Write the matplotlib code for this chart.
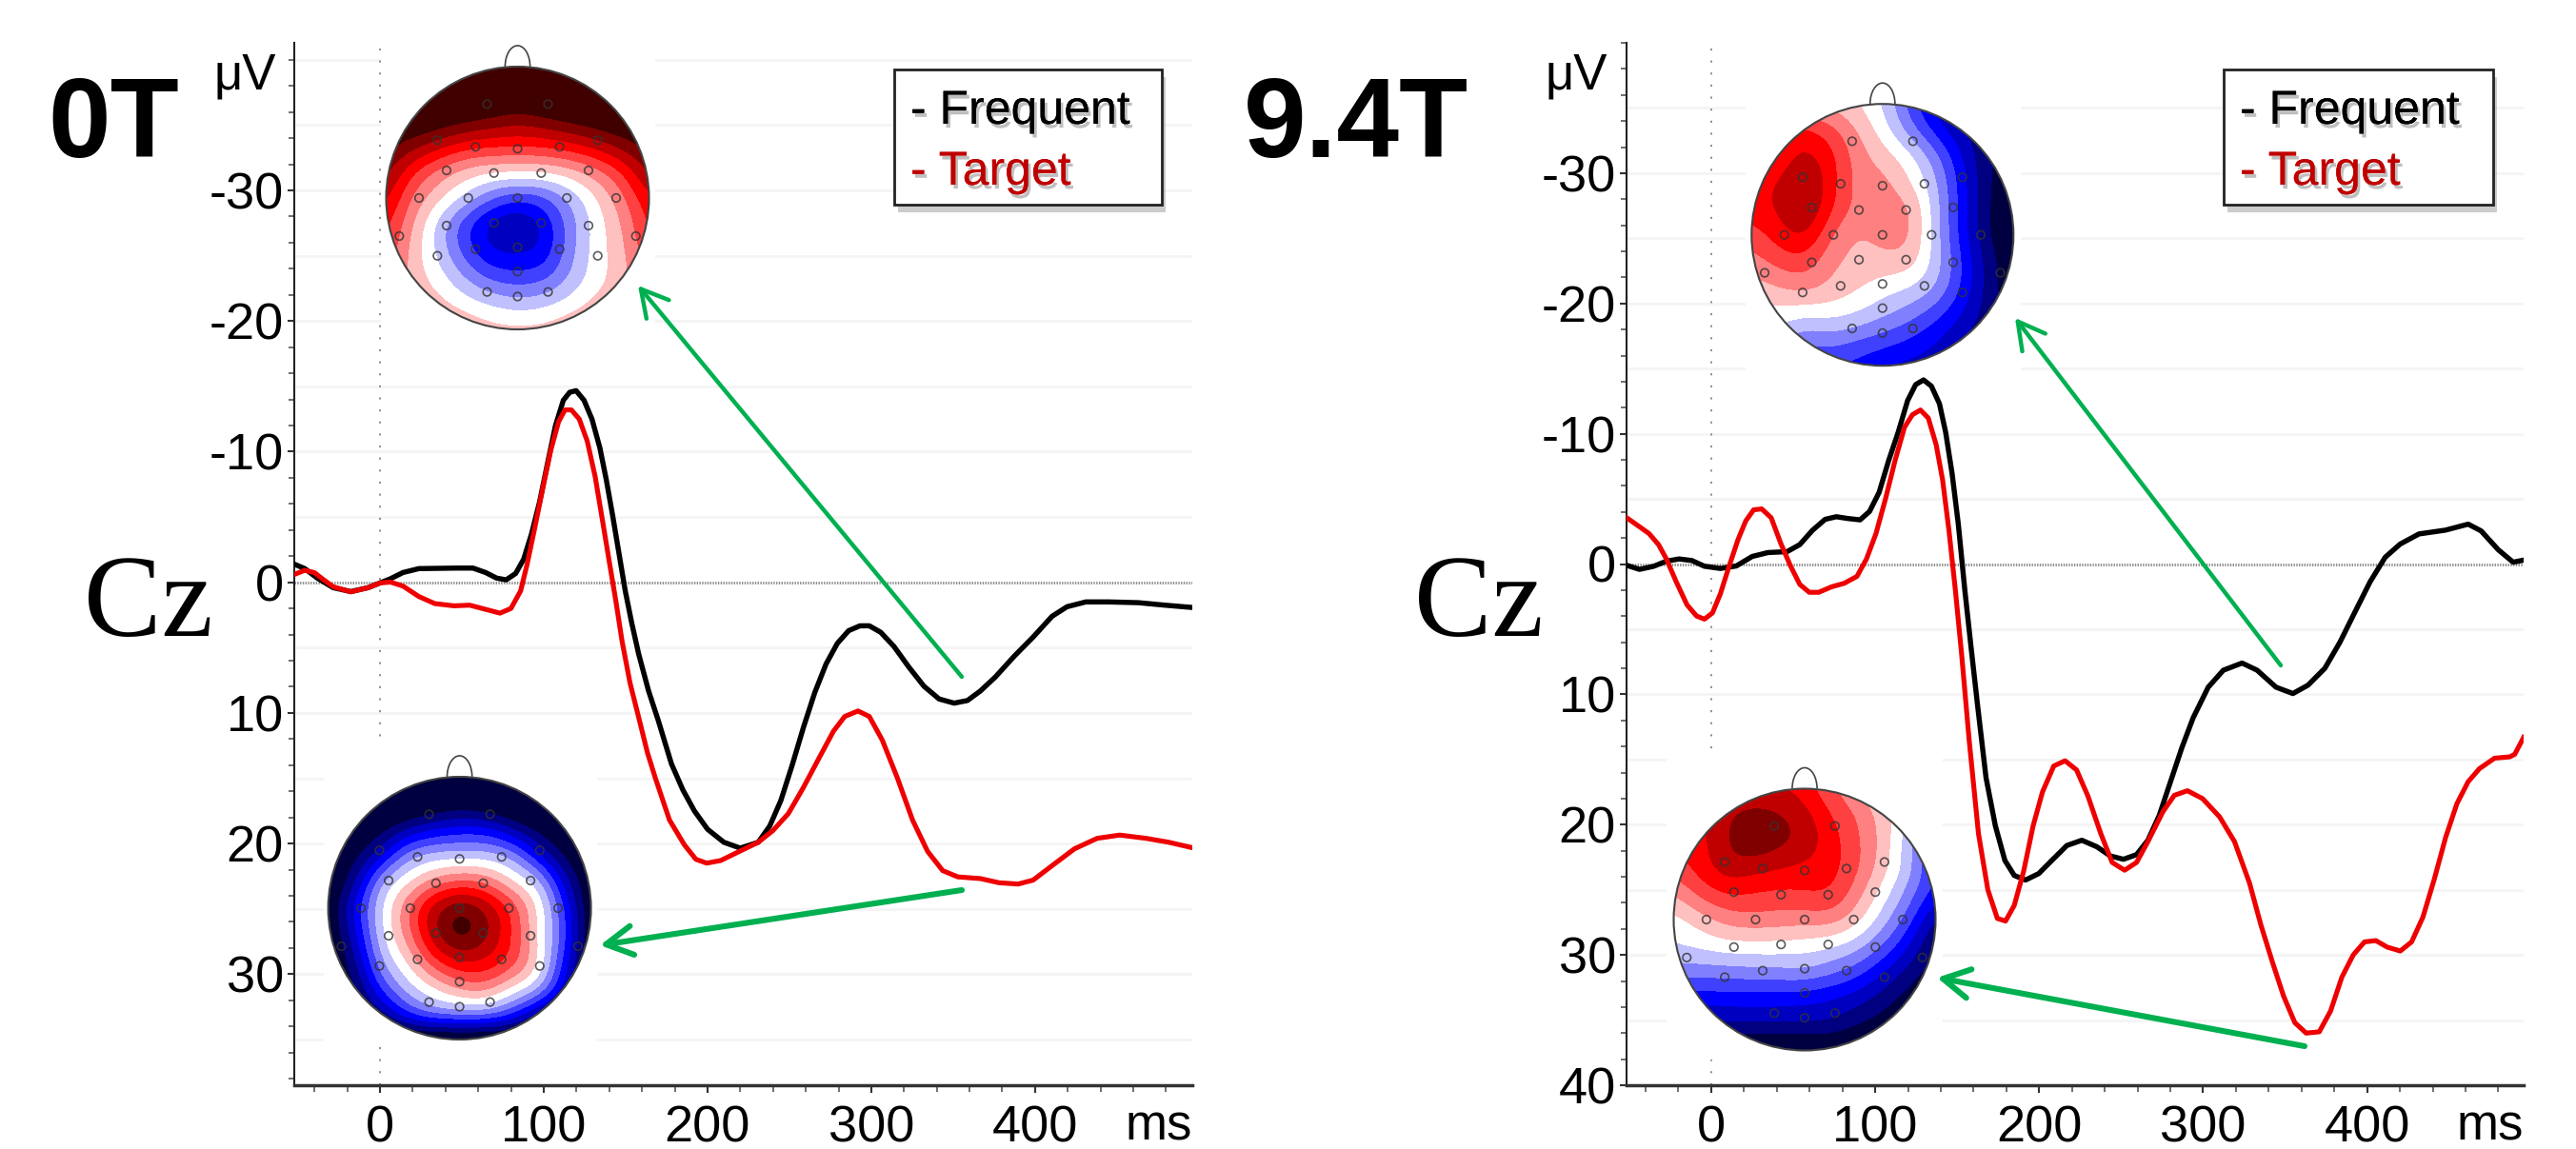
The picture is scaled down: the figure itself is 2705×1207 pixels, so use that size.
import numpy as np
import matplotlib
matplotlib.use("Agg")
import matplotlib.pyplot as plt
import matplotlib.patheffects as pe
from matplotlib.colors import ListedColormap, BoundaryNorm
from matplotlib.patches import Circle, Arc, Rectangle
from matplotlib.transforms import Affine2D

plt.rcParams['font.family'] = ['Liberation Sans', 'DejaVu Sans']
plt.rcParams['axes.unicode_minus'] = False

W, H = 2705, 1207

## ERP curves (time in ms, amplitude in uV, negative up)
t_freq_0t = [-51.7, -45.9, -38.2, -28.5, -17.8, -7.2, 0, 6.4, 14.1, 23.8, 35.5, 47.1, 56.8, 64.5, 71.3, 77.1, 82.9, 87.8,
             92.6, 97.5, 102.3, 107.2, 112, 115.9, 119.8, 124.6, 129.5, 134.3, 138.2, 142, 145.9, 149.8, 153.7,
             158, 164, 170, 178, 185, 192, 200, 210, 220, 231, 238, 244.8, 251.7, 258.6, 265.5, 272.4, 279.3, 286.2,
             293.1, 298.8, 305.7, 313.8, 323, 332.2, 341.4, 350.6, 358.7, 366.6, 375.9, 387.4, 398.9, 410.4, 419.5,
             431, 444.8, 463.2, 479.3, 495.4]
v_freq_0t = [-1.36, -1.05, -.32, .41, .71, .41, .05, -.27, -.75, -1.05, -1.07, -1.09, -1.09, -.75, -.32, -.19, -.68, -1.78,
             -3.72, -6.16, -9.08, -12, -13.94, -14.55, -14.67, -13.94, -12.48, -10.29, -7.86, -5.18, -2.26, .66, 3.09,
             5.5, 8.3, 10.6, 13.9, 15.9, 17.5, 18.9, 19.9, 20.35, 19.9, 18.66, 16.7, 14, 11.1, 8.44, 6.25, 4.67, 3.7,
             3.33, 3.33, 3.82, 4.9, 6.5, 7.96, 8.93, 9.25, 9.05, 8.32, 7.23, 5.64, 4.18, 2.6, 1.87,
             1.5, 1.5, 1.56, 1.75, 1.92]
t_targ_0t = [-51.7, -45.9, -40.1, -34.3, -28.5, -17.8, -7.2, 0, 6.4, 14.1, 23.8, 33.5, 45.2, 54.8, 64.5, 73.3, 80, 85.9,
             89.7, 94.6, 99.4, 104.3, 109.1, 113, 116.9, 121.7, 126.6, 131.4, 136.2, 140.1, 144, 147.9, 152.7, 157.6,
             163.4, 168.2, 176.8, 185.9, 192.9, 199.5, 208, 219.5, 231, 240, 249.4, 258.6, 267.7, 276.9, 283.8, 291.9,
             298.8, 306.8, 316, 325.2, 334.4, 343.6, 352.8, 366.6, 378, 389.6, 398.8, 410.3, 424.1, 437.9, 451.7,
             467.8, 481.6, 495.4]
v_targ_0t = [-.63, -.92, -.75, -.19, .34, .73, .41, .05, -.02, .29, 1.09, 1.63, 1.8, 1.75, 2.07, 2.36, 2, .66,
             -1.29, -4.2, -7.18, -10.1, -12.3, -13.2, -13.2, -12.5, -10.8, -8.1, -4.5, -1.53, 1.39, 4.55, 7.7, 10.15,
             13.07, 15, 18.2, 20.1, 21.2, 21.5, 21.3, 20.6, 19.9, 19, 17.7, 15.7, 13.55, 11.4, 10.27, 9.85,
             10.27, 12.1, 15, 18.2, 20.6, 22.07, 22.55, 22.68, 23, 23.1, 22.8, 21.7, 20.4, 19.6, 19.35,
             19.6, 19.9, 20.3]

t_freq_94t = [-51.5, -43.7, -35, -27.3, -19.6, -11.8, -4.1, 5.6, 15.3, 25, 34.6, 46.3, 54, 61.7, 69.5, 76.3, 83, 90.8,
              96.6, 102.4, 108.2, 114, 119.8, 124.7, 129.5, 134.3, 139.2, 143, 146.9, 150.7, 154.7, 158.5, 162.4,
              167.6, 173.3, 179.1, 184.8, 191.7, 199.7, 207.7, 216.9, 226, 235.2, 243.3, 251.4, 259.4, 266.3, 273.2,
              280.1, 287, 293.9, 303.1, 312.3, 323.7, 332.9, 344.4, 354.7, 363.9, 374.2, 383.4, 392.6, 401.8, 411,
              420.1, 431.6, 447.7, 461.6, 469.5, 479.9, 489, 495.4]
v_freq_94t = [.1, .41, .17, -.22, -.39, -.27, .17, .34, .15, -.58, -.88, -.95, -1.49, -2.58, -3.43, -3.63, -3.5, -3.39,
              -4.04, -5.5, -7.93, -10.1, -12.55, -13.77, -14.13, -13.65, -12.3, -10.1, -6.95, -3.06, 2.04, 6.42, 10.8,
              16.4, 20.1, 22.75, 23.9, 24.25, 23.76, 22.75, 21.6, 21.2, 21.7, 22.4, 22.66, 22.3, 21.2, 19.3,
              16.7, 14.1, 11.8, 9.45, 8.15, 7.6, 8.15, 9.45, 9.94, 9.3, 8, 6, 3.67, 1.36, -.52,
              -1.53, -2.31, -2.6, -3.06, -2.54, -1.1, -.14, -.3]
t_targ_94t = [-51.5, -44.7, -37.9, -32.1, -27.3, -21.5, -14.7, -8.9, -4.1, .8, 5.6, 10.5, 16.3, 21.1, 25.9, 30.8, 36.6,
              42.4, 48.2, 54, 59.8, 65.6, 73.4, 81.1, 88.9, 94.7, 100.5, 106.3, 112.1, 117.9, 122.7, 127.6, 132.4,
              137.2, 141.1, 145, 148.9, 152.7, 157.3, 163, 168.7, 174.5, 179.5, 184.8, 190.5, 196.3, 202, 208.9,
              215.8, 222.8, 229.7, 237.6, 244.5, 252.1, 259.4, 266.3, 275.5, 282.4, 290.4, 299.6, 310, 319.1, 328.3,
              335.2, 342.1, 349, 355.9, 362.8, 370.8, 377.7, 384.6, 391.5, 398.4, 405.3, 412.2, 420.2, 427.1, 434,
              440.9, 447.8, 454.7, 461.6, 468.5, 477.7, 486.9, 490, 495.4]
v_targ_94t = [-3.55, -2.95, -2.34, -1.49, -.39, 1.31, 3.14, 3.99, 4.23, 3.75, 2.29, .34, -1.85, -3.31, -4.16, -4.23, -3.55,
              -1.6, .1, 1.56, 2.17, 2.17, 1.75, 1.48, .95, -.39, -2.34, -5, -7.93, -10.5, -11.46, -11.82, -11.2,
              -9.15, -6.47, -2.58, 2, 6.9, 13.5, 20.7, 25, 27.2, 27.4, 26.2, 23.6, 20.1, 17.5, 15.5,
              15.1, 15.8, 17.8, 20.7, 22.9, 23.5, 22.9, 21.3, 19, 17.75, 17.4, 18, 19.4, 21.3, 24.5,
              27.7, 30.5, 33.15, 35.2, 36, 35.9, 34.3, 31.7, 30, 29, 28.9, 29.4, 29.7, 29, 27.1,
              24.2, 21, 18.4, 16.7, 15.7, 14.9, 14.8, 14.6, 13.3]

## electrode layout on the unit head (same for all four maps)
elec_x = [-.232, .232, -.61, -.32, 0, .32, .61, -.54, -.18, .18, .54, -.75, -.375, 0, .375, .75,
          -.9, -.54, -.18, .18, .54, .9, -.61, -.32, 0, .32, .61, 0, -.232, 0, .232]
elec_y = [.715, .715, .44, .39, .375, .39, .44, .21, .19, .19, .21, 0, 0, 0, 0, 0,
          -.29, -.21, -.19, -.19, -.21, -.29, -.44, -.39, -.375, -.39, -.44, -.56, -.715, -.75, -.715]

## scalp maps in colour band units (0 white, + red, - blue), rows y=1..-1, columns x=-1..1
map_0t_top = [[9, 9, 9, 9, 9, 9, 9, 9, 9, 9, 9],
              [9, 9, 9, 9, 8.5, 8, 8.5, 9, 9, 9, 9],
              [8, 8, 7.5, 7, 6.5, 6, 6.5, 7, 7.5, 8, 8],
              [7, 6, 5, 4, 3.8, 3.7, 3.8, 4.3, 5, 6, 7],
              [6, 3.5, 2, 1, .6, .6, .6, 1, 2, 3.5, 6],
              [5, 2.2, .8, -.7, -2.5, -3.5, -3, -1.3, .4, 2.2, 4.5],
              [4, 1.5, -1, -3.5, -5.2, -6, -4.5, -2, 0, 1.5, 4],
              [3.5, 1, -.8, -3.2, -4.7, -4.8, -4.5, -1.8, .1, 1.2, 3.5],
              [3, 1, 0, -1.6, -3, -3.2, -3, -1.4, .1, 1, 3],
              [3, 1.5, .8, 0, -.6, -1.2, -.8, -.1, .8, 1.5, 3],
              [3, 3, 2, 1.5, 1, 1, 1, 1.5, 2, 3, 3]]
map_0t_bot = [[-9, -9, -9, -9, -9, -9, -9, -9, -9, -9, -9],
              [-9, -9, -9, -8.5, -8, -7.5, -8, -8.5, -9, -9, -9],
              [-8, -8, -7, -5.5, -4.5, -4, -4, -5.5, -7, -8, -8],
              [-8, -7, -5, -1.6, -1, -1, -1, -1.5, -4.5, -7, -8],
              [-8, -6, -1, .3, 2, 2.8, 2.5, .5, -.6, -5, -8],
              [-8, -4, -.5, 2.5, 5.5, 7, 5.7, 3.5, .5, -3.5, -8],
              [-8, -5, -.5, 2, 5.5, 7.6, 6, 3.5, .3, -3, -8],
              [-8, -6, -1.3, .5, 3.5, 4.8, 4.5, 3.5, .8, -4, -8],
              [-8, -7, -3, -.8, .5, 2, 2.5, .5, -.4, -5, -8],
              [-8, -7.5, -6, -3, -1.6, -1.5, -1.5, -3, -6, -7.5, -8],
              [-9, -9, -9, -9, -9, -9, -9, -9, -9, -9, -9]]
map_94t_top = [[1, 1, 1, 1, .5, -.5, -3, -5, -6, -7, -7],
               [4, 4, 4, 3, 1.5, 0, -2, -4, -5.5, -6.5, -7],
               [3.5, 3.5, 5, 4, 2, 1, 0, -2, -4.5, -6.5, -7],
               [4, 4.5, 6, 4, 2, 2, .6, -1.2, -4, -6.5, -7.5],
               [4, 4.7, 6, 3.7, 2.1, 2, 2, -1, -4, -6.5, -8],
               [3, 4, 5, 2.5, 1.2, 2, 2, -1, -4, -6.5, -8],
               [2, 3, 3.3, 1.7, 1.2, 1.2, 1.3, -.8, -3.5, -6, -7.5],
               [1, 1.5, 2, 1.3, .7, 0, -.4, -1.3, -3.5, -6, -7.5],
               [0, .2, -.2, 0, -.4, -1.2, -2, -3, -4.5, -6, -7],
               [-2, -1, -2.5, -2, -2.5, -3, -3.5, -4.5, -5.5, -6.5, -7],
               [-5, -4, -3.5, -3.5, -4, -4.5, -5, -5, -5.5, -6, -7]]
map_94t_bot = [[3.5, 4, 4.5, 4.5, 4.5, 4, 2.5, 1.5, 0, -2, -4],
               [4, 4.5, 5.4, 6, 5.7, 5, 3.5, 2.5, 1, 0, -2],
               [4, 4, 5.5, 6.6, 6, 5.3, 4, 2.7, 1.2, -1.5, -4],
               [3, 4, 5.4, 5, 4.6, 4.3, 4, 2.8, 1, -1, -4],
               [1.5, 3, 3.7, 3.5, 3.3, 3.5, 3.7, 2, 0, -2, -4],
               [0, 1, 2, 2.3, 2.1, 2, 2.2, 1, -1, -3, -6],
               [-.5, -.2, .2, .2, .2, 0, -.3, -1, -2.5, -4.5, -7],
               [-2, -2, -2, -1.8, -1.8, -1.5, -2.2, -3, -4.5, -6, -7],
               [-4, -4, -4, -4, -4, -4.2, -4.5, -5, -6, -7, -8],
               [-6, -6, -5.5, -5.5, -5.5, -5.5, -5.5, -6.5, -7, -8, -8],
               [-8, -8, -8, -8, -8, -8, -8, -8, -8, -8, -8]]

band_colors = ['#000040', '#000080', '#0000c0', '#0000ff', '#4040ff', '#8080ff', '#c0c0ff', '#ffffff',
               '#ffc0c0', '#ff8080', '#ff4040', '#ff0000', '#c00000', '#800000', '#400000']
band_edges = np.arange(-7.5, 8.5, 1.0)

x_ticks = [0, 100, 200, 300, 400]
green = '#00b050'
legend_red = '#c00000'

fig = plt.figure(figsize=(W/100, H/100), dpi=100)
px = Affine2D().scale(1.0/W, -1.0/H).translate(0, 1) + fig.transFigure   # reference pixels -> figure


def px_axes(x0, y0, x1, y1, **kw):
    return fig.add_axes([x0/W, 1-y1/H, (x1-x0)/W, (y1-y0)/H], **kw)


def draw_panel(x0, x1, xlim, ylim, y_labels, masks, freq, targ):
    ax = px_axes(x0, 45, x1, 1140)
    ax.set_zorder(1)
    for s in ['top', 'right']:
        ax.spines[s].set_visible(False)
    ax.spines['left'].set_linewidth(1.5)
    ax.spines['left'].set_color('#222222')
    ax.spines['bottom'].set_linewidth(2.5)
    ax.spines['bottom'].set_color('#333333')

    # faint 5 uV grid, then the white boxes the maps were pasted with
    for g in np.arange(-40, 40, 5):
        if ylim[1] < g < ylim[0] and g != 0:
            ax.axhline(g, color='#f4f4f4', lw=2, zorder=0.5)
    ax.axvline(0, color='#888888', lw=1.3, ls=(0, (1.2, 5.8)), zorder=0.6)
    for m in masks:
        ax.add_patch(Rectangle((m[0], m[1]), m[2]-m[0], m[3]-m[1], transform=px, fc='white', ec='none', zorder=0.8))
    ax.axhline(0, color='#888888', lw=2, ls=(0, (0.5, 0.5)), zorder=1)

    ax.plot(freq[0], freq[1], color='black', lw=3.9, solid_joinstyle='round', zorder=3)
    ax.plot(targ[0], targ[1], color='#ee0000', lw=3.7, solid_joinstyle='round', zorder=3.5)

    ax.set_xticks(x_ticks)
    ax.set_xticklabels([str(t) for t in x_ticks])
    ax.set_xticks(np.arange(-40, 500, 20), minor=True)
    ax.set_yticks(y_labels)
    ax.set_yticklabels([str(t) for t in y_labels])
    ax.set_yticks(np.arange(-40, 41, 2), minor=True)
    ax.tick_params(axis='x', which='major', labelsize=39, length=6, width=1.5, pad=9, color='#333333')
    ax.tick_params(axis='x', which='minor', length=5, width=1.2, color='#555555')
    ax.tick_params(axis='y', which='major', labelsize=39, length=5, width=1.5, pad=3, color='#333333')
    ax.tick_params(axis='y', which='minor', length=4, width=1.2, color='#555555')
    # limits last, set_xticks/set_yticks widen them otherwise
    ax.set_xlim(*xlim)
    ax.set_ylim(*ylim)
    return ax


def draw_head(cx, cy, grid, r=138):
    # axes reach 1.2 radii so the nose fits
    hax = px_axes(cx-1.2*r, cy-1.2*r, cx+1.2*r, cy+1.2*r)
    hax.axis('off')
    hax.set_zorder(3)
    hax.patch.set_alpha(0)
    cmap = ListedColormap(band_colors)
    norm = BoundaryNorm(band_edges, cmap.N, clip=True)
    im = hax.imshow(np.array(grid), cmap=cmap, norm=norm, interpolation='bicubic', interpolation_stage='data',
                    extent=(-1.1, 1.1, -1.1, 1.1), origin='upper', aspect='auto')
    hax.set_xlim(-1.2, 1.2)
    hax.set_ylim(-1.2, 1.2)
    im.set_clip_path(Circle((0, 0), 1.0, transform=hax.transData))
    hax.add_patch(Circle((0, 0), 1.0, fc='none', ec='#444444', lw=1.5))
    hax.add_patch(Arc((0, 1.0), 0.19, 0.32, theta1=0, theta2=180, ec='#444444', lw=1.2))
    hax.scatter(elec_x, elec_y, s=38, facecolors='none', edgecolors='#333333', linewidths=1.2, alpha=0.8)


ax_l = draw_panel(309, 1252, (-52.3, 496), (38.5, -41.3), [-30, -20, -10, 0, 10, 20, 30],
                  [(400, 48, 688, 360), (340, 782, 627, 1097)],
                  (t_freq_0t, v_freq_0t), (t_targ_0t, v_targ_0t))
ax_r = draw_panel(1708, 2650, (-51.6, 495.4), (40, -40), [-30, -20, -10, 0, 10, 20, 30, 40],
                  [(1833, 88, 2122, 392), (1750, 790, 2040, 1113)],
                  (t_freq_94t, v_freq_94t), (t_targ_94t, v_targ_94t))

draw_head(543.5, 208, map_0t_top)
draw_head(482.6, 954, map_0t_bot)
draw_head(1976.8, 246.7, map_94t_top, r=137.5)
draw_head(1895, 966, map_94t_bot, r=137.5)

## overlay in reference pixels for labels, legends and arrows
top = px_axes(0, 0, W, H)
top.set_xlim(0, W)
top.set_ylim(H, 0)
top.axis('off')
top.set_zorder(4)
top.patch.set_alpha(0)

top.text(50, 165, '0T', fontsize=85, fontweight='bold', ha='left', va='baseline')
top.text(1306, 165, '9.4T', fontsize=85, fontweight='bold', ha='left', va='baseline')
top.text(88, 668, 'Cz', fontsize=88, family='Liberation Serif', ha='left', va='baseline')
top.text(1485, 668, 'Cz', fontsize=88, family='Liberation Serif', ha='left', va='baseline')
top.text(224, 93, 'μV', fontsize=38, ha='left', va='baseline')
top.text(1623, 93, 'μV', fontsize=38, ha='left', va='baseline')
top.text(1252, 1198, 'ms', fontsize=38, ha='right', va='baseline')
top.text(2650, 1198, 'ms', fontsize=38, ha='right', va='baseline')

soft = [pe.withSimplePatchShadow(offset=(2, -3), shadow_rgbFace='#000000', alpha=0.25), pe.Normal()]
for bx0, bx1 in [(939, 1220), (2335, 2618)]:
    box = Rectangle((bx0, 73), bx1-bx0, 142, fc='white', ec='#222222', lw=2,
                    path_effects=[pe.SimplePatchShadow(offset=(3, -6), shadow_rgbFace='#000000', alpha=0.2), pe.Normal()])
    top.add_patch(box)
    top.text(bx0+17, 130, '- Frequent', fontsize=36, color='black', ha='left', va='baseline', path_effects=soft)
    top.text(bx0+17, 194, '- Target', fontsize=36, color=legend_red, ha='left', va='baseline', path_effects=soft)

arrows = [((1010, 711), (670, 300), 3.2), ((1010, 935), (630, 993), 4.4),
          ((2395, 699), (2116, 334), 3.2), ((2420, 1099), (2034, 1027), 4.4)]
for start, end, lw in arrows:
    top.annotate('', xy=end, xytext=start,
                 arrowprops=dict(arrowstyle='->,head_length=1.0,head_width=0.55', color=green, lw=lw,
                                 shrinkA=0, shrinkB=0, mutation_scale=20))

fig.savefig('out.png', dpi=100, facecolor='white')
